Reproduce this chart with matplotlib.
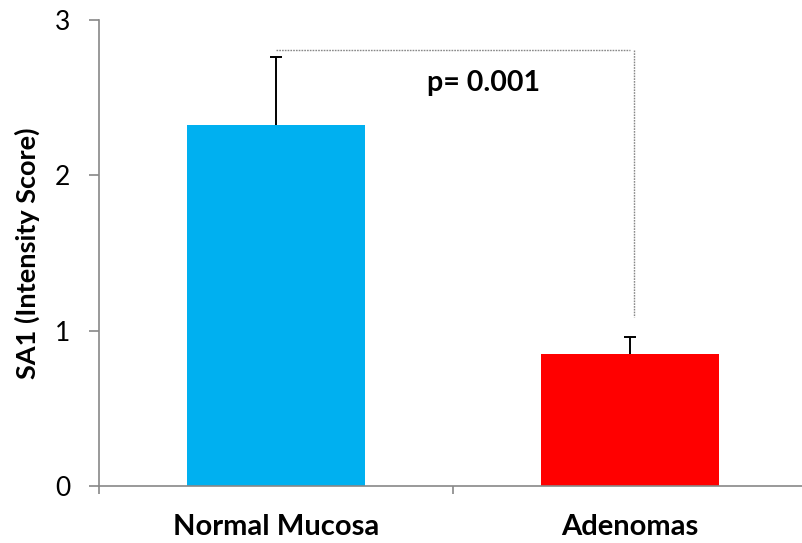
import matplotlib
matplotlib.use("Agg")
import matplotlib.pyplot as plt

categories = ["Normal Mucosa", "Adenomas"]
values = [2.325, 0.85]
errors = [0.435, 0.11]
colors = ["#00B0F0", "#FF0000"]
p_text = "p= 0.001"
bracket_y = 2.81
bracket_right_bottom = 1.09

plt.rcParams['font.family'] = ['Lato', 'DejaVu Sans']

fig = plt.figure(figsize=(8.02, 5.43), dpi=100)
W, H = 802, 543
ax = fig.add_axes([98.5 / W, (H - 486) / H, (807.5 - 98.5) / W, (486 - 20) / H])

x = list(range(len(categories)))
ax.bar(x, values, width=0.503, color=colors, zorder=2)
tops = [v + e for v, e in zip(values, errors)]
ax.vlines(x, values, tops, color='black', lw=1.4, zorder=3)
ax.plot(x, tops, linestyle='none', marker='_', markersize=9, markeredgewidth=1.4, color='black', zorder=3)

ax.set_xlim(-0.5, 1.5)
ax.set_ylim(0, 3)
ax.set_yticks([0, 1, 2, 3])
ax.set_xticks([-0.5, 0.5, 1.5], minor=False)
ax.set_xticklabels(["", "", ""])
ax.set_xticks(x, minor=True)
ax.set_xticklabels(categories, minor=True, fontsize=21, fontweight='bold')
ax.tick_params(axis='x', which='minor', length=0, pad=20)
ax.tick_params(axis='x', which='major', length=6, color='#888888', width=1.2, direction='out')
ax.tick_params(axis='y', length=7.2, color='#888888', width=1.2, direction='out', labelsize=19, pad=13)

for s in ['top', 'right']:
    ax.spines[s].set_visible(False)
for s in ['left', 'bottom']:
    ax.spines[s].set_color('#888888')
    ax.spines[s].set_linewidth(1.2)

ax.set_ylabel("SA1 (Intensity Score)", fontsize=19.5, fontweight='bold', labelpad=11)

# significance bracket
ax.plot([x[0], x[1]], [bracket_y, bracket_y], linestyle=(0, (1.2, 0.8)), color='#888888', lw=1.0, zorder=1)
ax.plot([x[1] + 0.01, x[1] + 0.01], [bracket_y, bracket_right_bottom], linestyle=(0, (1.2, 0.8)),
        color='#888888', lw=1.0, zorder=1)
ax.text(0.587, 2.595, p_text, fontsize=20.5, fontweight='bold', ha='center', va='center')

fig.savefig("out.png", dpi=100)
